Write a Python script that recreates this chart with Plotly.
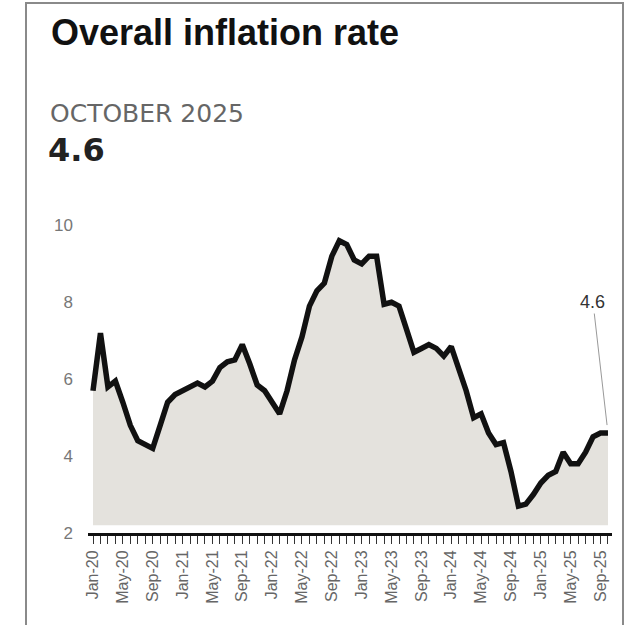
import pandas as pd
import plotly.graph_objects as go

# ---- data ----
months = pd.date_range("2020-01-01", "2025-10-01", freq="MS").strftime("%b-%y").tolist()
inflation = [
    5.7, 7.2, 5.8, 5.95, 5.4, 4.8, 4.4, 4.3, 4.2, 4.8, 5.4, 5.6,      # 2020
    5.7, 5.8, 5.9, 5.8, 5.95, 6.3, 6.45, 6.5, 6.9, 6.4, 5.85, 5.7,    # 2021
    5.4, 5.1, 5.7, 6.5, 7.1, 7.9, 8.3, 8.5, 9.2, 9.6, 9.5, 9.1,       # 2022
    9.0, 9.2, 9.2, 7.95, 8.0, 7.9, 7.3, 6.7, 6.8, 6.9, 6.8, 6.6,      # 2023
    6.85, 6.3, 5.7, 5.0, 5.1, 4.6, 4.3, 4.35, 3.6, 2.7, 2.75, 3.0,    # 2024
    3.3, 3.5, 3.6, 4.1, 3.8, 3.8, 4.1, 4.5, 4.6, 4.6,                 # 2025
]
tick_labels = ["Jan-20", "May-20", "Sep-20", "Jan-21", "May-21", "Sep-21",
               "Jan-22", "May-22", "Sep-22", "Jan-23", "May-23", "Sep-23",
               "Jan-24", "May-24", "Sep-24", "Jan-25", "May-25", "Sep-25"]
y_ticks = [2, 4, 6, 8, 10]
title_text = "Overall inflation rate"
period_text = "OCTOBER 2025"
latest_text = "4.6"
fill_base = 2.2

# ---- layout geometry (pixels) ----
W, H = 631, 625
L, R, T, B = 88, 19, 210, 92
PW, PH = W - L - R, H - T - B


def xp(px):
    return (px - L) / PW


def yp(py):
    return (H - B - py) / PH


fig = go.Figure()
fig.add_trace(go.Scatter(x=months, y=[fill_base] * len(months), mode="lines",
                         line=dict(width=0, color="rgba(0,0,0,0)"),
                         hoverinfo="skip", showlegend=False))
fig.add_trace(go.Scatter(x=months, y=inflation, mode="lines", fill="tonexty",
                         fillcolor="#e4e2dd",
                         line=dict(color="#111111", width=5.5),
                         showlegend=False))

fig.update_xaxes(
    type="category", range=[-0.67, len(months) - 0.46],
    tickmode="array", tickvals=months,
    ticktext=[m if m in tick_labels else "" for m in months],
    tickangle=-90, ticks="outside", ticklen=8, tickwidth=1, tickcolor="#333",
    showline=True, linewidth=3, linecolor="#111",
    showgrid=False, zeroline=False,
    tickfont=dict(family="Liberation Sans", size=16, color="#666"),
)
fig.update_yaxes(
    range=[2, 10.4], tickmode="array", tickvals=y_ticks,
    showgrid=False, zeroline=False, showline=False,
    ticklabelstandoff=14,
    tickfont=dict(family="Liberation Sans", size=17, color="#777"),
)

fig.add_annotation(x=xp(49), y=yp(32), xref="paper", yref="paper",
                   xanchor="left", yanchor="middle", showarrow=False,
                   text=f"<b>{title_text}</b>",
                   font=dict(family="Liberation Sans", size=36, color="#111"))
fig.add_annotation(x=xp(48), y=yp(114), xref="paper", yref="paper",
                   xanchor="left", yanchor="middle", showarrow=False,
                   text=period_text,
                   font=dict(family="DejaVu Sans", size=25, color="#666"))
fig.add_annotation(x=xp(46), y=yp(150), xref="paper", yref="paper",
                   xanchor="left", yanchor="middle", showarrow=False,
                   text=f"<b>{latest_text}</b>",
                   font=dict(family="DejaVu Sans", size=32, color="#222"))
fig.add_annotation(x=months[-1], y=inflation[-1], xref="x", yref="y",
                   text=f"{inflation[-1]:.1f}", showarrow=True, arrowhead=0,
                   arrowwidth=1, arrowcolor="#999", ax=-15, ay=-131,
                   standoff=8,
                   font=dict(family="Liberation Sans", size=18, color="#333"))

fig.add_shape(type="rect", xref="paper", yref="paper",
              x0=xp(26), x1=xp(623), y0=yp(640), y1=yp(3),
              line=dict(color="#8a8a8a", width=2))

fig.update_layout(width=W, height=H, margin=dict(l=L, r=R, t=T, b=B),
                  autosize=False, plot_bgcolor="white", paper_bgcolor="white")
fig.write_html("out.html")
